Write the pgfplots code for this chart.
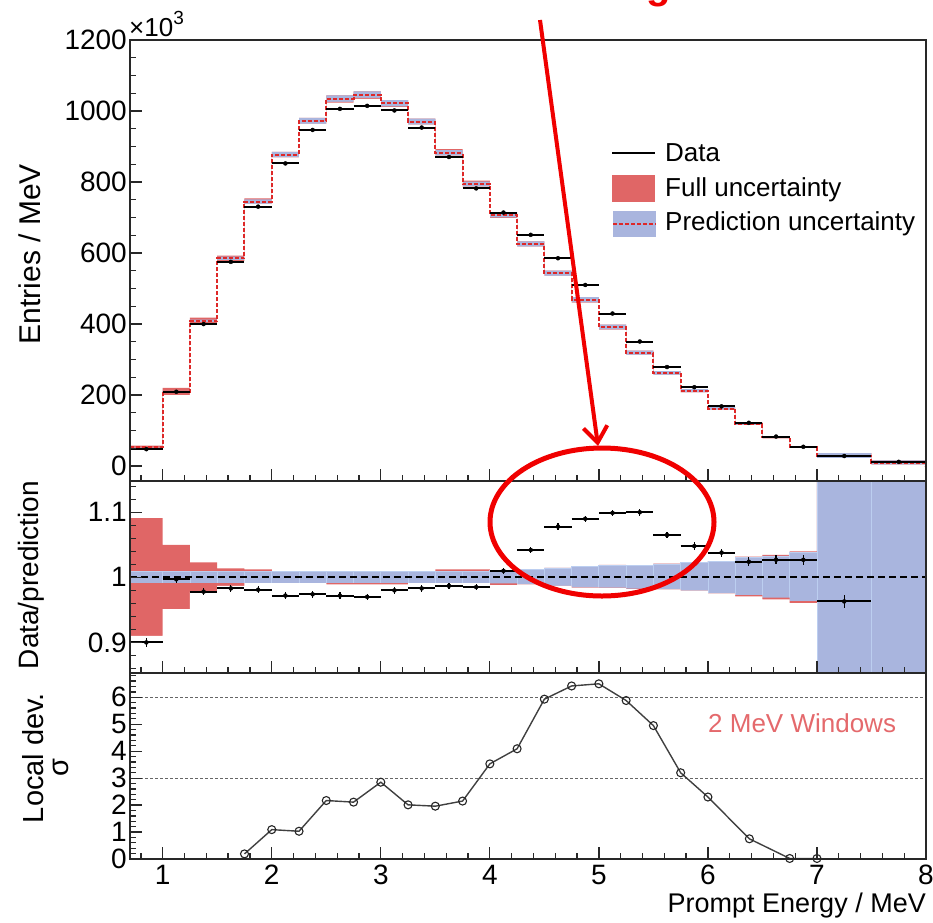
\documentclass[border=0pt]{standalone}
\usepackage{pgfplots}
\pgfplotsset{compat=1.18}
\usepackage{pgfplotstable}
\usepackage{fontspec}
\setmainfont{Liberation Sans}
\usetikzlibrary{arrows.meta}

\definecolor{fullred}{RGB}{224,102,102}
\definecolor{predblue}{RGB}{169,181,222}
\definecolor{sepblue}{RGB}{188,206,240}
\definecolor{predline}{RGB}{222,40,40}
\definecolor{framegray}{RGB}{40,40,40}
\definecolor{annot}{RGB}{240,0,0}
\definecolor{txtred}{RGB}{228,105,108}

% top panel: bin left edge, bin centre, prediction, data (x10^3 entries/MeV), bands
\pgfplotstableread{
x    xc     pred   data    terr  bhi     blo     rhi     rlo
0.70 0.85   53     47.7    0.3   53.5    52.5    57.8    48.2
1.00 1.125  210    209.4   0.8   211.8   208.2   220.5   199.7
1.25 1.375  409    400.0   1.6   412.6   405.4   418.4   400.0
1.50 1.625  585    575.1   2.3   590.1   579.9   593.1   577.2
1.75 1.875  745    730.8   3.0   751.5   738.5   754.2   738.5
2.00 2.125  877    852.4   3.5   884.6   869.4   884.6   869.4
2.25 2.375  972    946.7   3.9   980.5   963.5   980.5   963.5
2.50 2.625  1035   1006.0  4.1   1044.0  1026.0  1044.0  1023.6
2.75 2.875  1046   1014.6  4.2   1055.1  1036.9  1055.1  1034.5
3.00 3.125  1022   1001.6  4.1   1030.9  1013.1  1030.9  1010.8
3.25 3.375  970    953.5   3.9   978.4   961.6   978.4   961.6
3.50 3.625  882    870.5   3.5   889.7   874.3   892.8   874.3
3.75 3.875  794    782.1   3.2   800.9   787.1   803.8   787.1
4.00 4.125  707    714.1   2.8   714.3   700.5   714.3   698.5
4.25 4.375  625    651.3   2.5   632.7   618.3   632.7   618.3
4.50 4.625  543    585.4   2.2   550.8   535.8   550.8   535.8
4.75 4.875  468    510.1   1.9   475.7   460.8   475.7   460.6
5.00 5.125  391    429.7   1.6   398.2   384.8   398.4   384.7
5.25 5.375  319    350.9   1.3   324.9   313.5   324.9   313.3
5.50 5.625  262    279.0   1.0   267.4   257.2   267.5   257.2
5.75 5.875  212    222.2   1.0   216.8   207.7   216.9   207.7
6.00 6.125  162    168.2   0.8   166.0   158.0   166.0   158.0
6.25 6.375  119    121.9   0.7   122.6   115.8   122.8   115.5
6.50 6.625  81     83.2    0.5   83.7    78.5    83.8    78.3
6.75 6.875  53     54.4    0.4   55.0    51.1    55.1    50.9
7.00 7.25   29.5   28.4    0.3   36.5    22.5    36.5    22.5
7.50 7.75   10     12.0    0.2   16.0    4.0     16.0    4.0
8.00 nan    10     12.0    0     16.0    4.0     16.0    4.0
}\spectrum

% middle panel: data / prediction
\pgfplotstableread{
x    xc     rat    rerr
0.70 0.85   0.900  0.007
1.00 1.125  0.997  0.005
1.25 1.375  0.978  0.005
1.50 1.625  0.983  0.005
1.75 1.875  0.981  0.005
2.00 2.125  0.972  0.005
2.25 2.375  0.974  0.005
2.50 2.625  0.972  0.005
2.75 2.875  0.970  0.005
3.00 3.125  0.980  0.005
3.25 3.375  0.983  0.005
3.50 3.625  0.987  0.005
3.75 3.875  0.985  0.005
4.00 4.125  1.010  0.005
4.25 4.375  1.042  0.005
4.50 4.625  1.078  0.005
4.75 4.875  1.090  0.005
5.00 5.125  1.099  0.005
5.25 5.375  1.100  0.005
5.50 5.625  1.065  0.005
5.75 5.875  1.048  0.006
6.00 6.125  1.038  0.006
6.25 6.375  1.024  0.007
6.50 6.625  1.027  0.007
6.75 6.875  1.027  0.008
7.00 7.25   0.963  0.010
7.50 nan    0.963  0
}\ratio

% middle panel: relative uncertainty bands
\pgfplotstableread{
x    bhi     blo     rhi     rlo
0.70 1.0087  0.9913  1.091   0.910
1.00 1.0087  0.9913  1.050   0.951
1.25 1.0087  0.9913  1.023   0.978
1.50 1.0087  0.9913  1.0138  0.9867
1.75 1.0087  0.9913  1.0123  0.9913
2.00 1.0087  0.9913  1.0087  0.9913
2.25 1.0087  0.9913  1.0087  0.9913
2.50 1.0087  0.9913  1.0087  0.9892
2.75 1.0087  0.9913  1.0087  0.9892
3.00 1.0087  0.9913  1.0087  0.9892
3.25 1.0087  0.9913  1.0087  0.9913
3.50 1.0087  0.9913  1.0123  0.9913
3.75 1.0087  0.9913  1.0123  0.9913
4.00 1.0103  0.9908  1.0103  0.9880
4.25 1.0123  0.9892  1.0123  0.9892
4.50 1.0144  0.9867  1.0144  0.9867
4.75 1.0164  0.9846  1.0164  0.9841
5.00 1.0185  0.9841  1.0190  0.9840
5.25 1.0185  0.9826  1.0185  0.9820
5.50 1.0205  0.9815  1.0210  0.9815
5.75 1.0226  0.9795  1.0231  0.9795
6.00 1.0251  0.9754  1.0251  0.9754
6.25 1.0303  0.9728  1.0318  0.9708
6.50 1.0328  0.9687  1.0344  0.9662
6.75 1.0385  0.9636  1.0400  0.9605
7.00 1.3     0.7     1.3     0.7
7.50 1.3     0.7     1.3     0.7
8.00 1.3     0.7     1.3     0.7
}\ratioband

\pgfplotsset{
  rootaxis/.style={
    scale only axis, width=796pt,
    xmin=0.7, xmax=8,
    axis line style={framegray, line width=1.4pt},
    every tick/.style={framegray, line width=1.3pt},
    major tick length=12pt, minor tick length=6pt,
    tick align=inside, tick pos=left,
    xtick={1,2,3,4,5,6,7,8},
    minor xtick={0.8,1.0,...,7.8},
    tick label style={font=\fontsize{28}{32}\selectfont},
    yticklabel style={inner sep=3pt},
    xticklabel style={inner sep=6pt},
    /pgf/number format/assume math mode=true,
    /pgf/number format/1000 sep={},
    scaled ticks=false,
    axis on top,
  }
}

\begin{document}
\begin{tikzpicture}
\useasboundingbox (0pt,0pt) rectangle (933pt,-922pt);

% ---------------- top panel ----------------
\begin{axis}[rootaxis, at={(130pt,-481pt)}, anchor=south west, height=441pt,
  ymin=-42, ymax=1200, ytick={0,200,...,1200}, minor ytick={50,100,...,1150},
  xticklabels={}]
  \addplot[const plot mark left, fill=fullred, draw=none] table[x=x,y=rhi]{\spectrum} \closedcycle;
  \addplot[const plot mark left, fill=predblue, draw=none] table[x=x,y=bhi]{\spectrum} \closedcycle;
  \addplot[const plot mark left, fill=fullred, draw=none] table[x=x,y=blo]{\spectrum} \closedcycle;
  \addplot[const plot mark left, fill=white, draw=none] table[x=x,y=rlo]{\spectrum} \closedcycle;
  \addplot[white, line width=2pt] coordinates {(0.72,0) (7.98,0)};
  \addplot[const plot mark left, predline, line width=2pt, dash pattern=on 4pt off 2pt] table[x=x,y=pred]{\spectrum};
  \addplot[jump mark left, black, line width=2pt] table[x=x,y=data]{\spectrum};
  \addplot[only marks, mark=none, error bars/.cd, y dir=both, y explicit, error mark=none,
    error bar style={black, solid, line width=1pt}] table[x=xc,y=data,y error=terr]{\spectrum};
\end{axis}

% ---------------- ratio panel ----------------
\begin{axis}[rootaxis, at={(130pt,-673pt)}, anchor=south west, height=192pt,
  ymin=0.853, ymax=1.148, ytick={0.9,1,1.1}, yticklabels={0.9,1,1.1},
  minor ytick={0.86,0.88,...,1.14},
  xticklabels={}]
  \addplot[const plot mark left, fill=fullred, draw=none] table[x=x,y=rhi]{\ratioband} \closedcycle;
  \addplot[ybar interval, fill=predblue, draw=sepblue, line width=0.8pt] table[x=x,y=bhi]{\ratioband};
  \addplot[const plot mark left, fill=fullred, draw=none] table[x=x,y=blo]{\ratioband} \closedcycle;
  \addplot[const plot mark left, fill=white, draw=none] table[x=x,y=rlo]{\ratioband} \closedcycle;
  \addplot[black, line width=2pt, dash pattern=on 7pt off 4pt] coordinates {(0.7,1) (8,1)};
  \addplot[jump mark left, black, line width=2pt] table[x=x,y=rat]{\ratio};
  \addplot[only marks, mark=none, error bars/.cd, y dir=both, y explicit, error mark=none,
    error bar style={black, solid, line width=1.2pt}] table[x=xc,y=rat,y error=rerr]{\ratio};
\end{axis}

% ---------------- local deviation panel ----------------
\begin{axis}[rootaxis, at={(130pt,-859pt)}, anchor=south west, height=186pt,
  ymin=0, ymax=6.9, ytick={0,1,2,3,4,5,6}, minor ytick={0.2,0.4,...,6.8},
  clip mode=individual]
  \addplot[black!60, line width=1.2pt, dash pattern=on 3pt off 2pt] coordinates {(0.7,3) (8,3)};
  \addplot[black!60, line width=1.2pt, dash pattern=on 3pt off 2pt] coordinates {(0.7,6) (8,6)};
  \addplot[black!75, line width=1.4pt, mark=o, mark size=4pt, mark options={line width=1.1pt, black!85}]
    coordinates {
    (1.75,0.19) (2.0,1.09) (2.25,1.03) (2.5,2.17) (2.75,2.11) (3.0,2.85)
    (3.25,2.01) (3.5,1.96) (3.75,2.15) (4.0,3.53) (4.25,4.09) (4.5,5.93)
    (4.75,6.42) (5.0,6.50) (5.25,5.88) (5.5,4.95) (5.75,3.20) (6.0,2.30)
    (6.38,0.75) (6.75,0.02) (7.0,0.02)};
\end{axis}

\begin{scope}[x=1pt,y=-1pt]
  % axis titles
  \node[rotate=90, inner sep=0pt, font=\fontsize{30}{34}\selectfont] at (30,254) {Entries / MeV};
  \node[rotate=90, inner sep=0pt, font=\fontsize{28}{32}\selectfont] at (31,575) {Data/prediction};
  \node[rotate=90, inner sep=0pt, font=\fontsize{29}{33}\selectfont] at (33,758) {Local dev.};
  \node[rotate=90, inner sep=0pt, font=\fontsize{29}{33}\selectfont] at (61,768) {σ};
  \node[anchor=base east, inner sep=0pt, font=\fontsize{27}{31}\selectfont] at (926,912) {Prompt Energy / MeV};
  \node[anchor=base west, inner sep=0pt, font=\fontsize{26}{30}\selectfont] at (129,36) {×10\raisebox{12pt}{\fontsize{19}{22}\selectfont 3}};
  % legend
  \draw[black, line width=2pt] (612,153) -- (655,153);
  \fill[fullred] (612,175) rectangle (655,202);
  \fill[predblue] (613,211) rectangle (656,237);
  \draw[predline, line width=2pt, dash pattern=on 4pt off 2pt] (613,224) -- (656,224);
  \node[anchor=base west, inner sep=0pt, font=\fontsize{26}{30}\selectfont] at (665,161) {Data};
  \node[anchor=base west, inner sep=0pt, font=\fontsize{26}{30}\selectfont] at (665,196.5) {Full uncertainty};
  \node[anchor=base west, inner sep=0pt, font=\fontsize{26}{30}\selectfont] at (665,230) {Prediction uncertainty};
  % in-panel text
  \node[anchor=base west, inner sep=0pt, text=txtred, font=\fontsize{26}{30}\selectfont] at (708,732) {2 MeV Windows};
  % annotations
  \draw[annot, line width=5pt] (602,522) ellipse [x radius=112pt, y radius=74pt];
  \draw[annot, line width=4pt, -{Straight Barb[length=16pt, width=24pt]}] (540,20) -- (598,446);
  \begin{scope}
    \clip (0,0) rectangle (933,6);
    \node[anchor=base west, inner sep=0pt, text=annot, font=\bfseries\fontsize{40}{44}\selectfont] at (646,-2) {g};
  \end{scope}
\end{scope}
\end{tikzpicture}
\end{document}
